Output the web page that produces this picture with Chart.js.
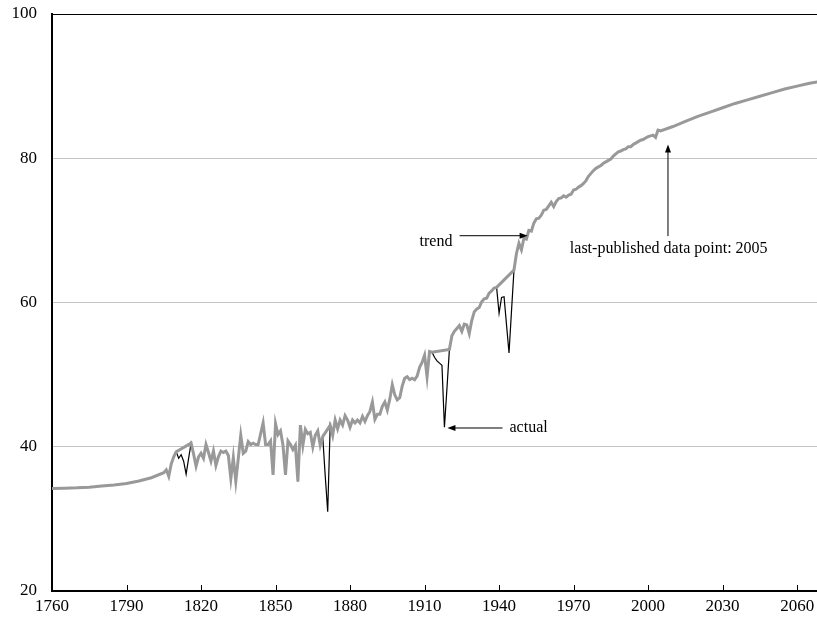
<!DOCTYPE html>
<html>
<head>
<meta charset="utf-8">
<script src="https://cdn.jsdelivr.net/npm/chart.js@4.4.1/dist/chart.umd.min.js"></script>
<style>
  html, body { margin: 0; padding: 0; background: #fff; }
  #wrap { width: 817px; height: 620px; }
</style>
</head>
<body>
<div id="wrap"><canvas id="chart" width="817" height="620"></canvas></div>
<script>
const FONT = "'Liberation Serif', 'Times New Roman', serif";

const X_TICKS = [1760, 1790, 1820, 1850, 1880, 1910, 1940, 1970, 2000, 2030, 2060];
const Y_TICKS = [20, 40, 60, 80, 100];

// smooth back-projection drawn before the annual series starts
const backYears = [1760, 1765, 1770, 1775, 1780, 1785, 1790, 1795, 1800, 1805];
const backTrend = [34.2, 34.25, 34.3, 34.4, 34.55, 34.7, 34.9, 35.25, 35.7, 36.4];

// annual trend, null where the trend bridges a war / crisis (straight line)
const FIRST_YEAR = 1806;
const trend1806 = [
  36.8, 35.9, 37.6, 38.6, 39.3, null, null, null, null, null,   // 1806-1815
  40.5, 39.0, 37.3, 38.6, 39.1, 38.4, 40.3, 39.2, 38.0, 39.4,   // 1816-1825
  37.4, 38.6, 39.4, 39.2, 39.4, 38.8, 35.6, 38.5, 35.2, 38.4,   // 1826-1835
  41.6, 39.1, 39.4, 40.7, 40.3, 40.5, 40.3, 40.3, 41.8, 43.3,   // 1836-1845
  40.3, 40.3, 40.8, 36.1, 43.2, 41.7, 42.2, 40.2, 36.1, 40.8,   // 1846-1855
  40.3, 39.6, 40.2, 35.2                                         // 1856-1859
];
const trend1860 = [
  43.0, 40.2, 42.4, 41.8, 42.0, 40.0, 41.6, 42.2, 40.2, 41.4,   // 1860-1869
  null, null, 43.0, 41.6, 43.7, 42.5, 43.7, 43.0, 44.3, 43.7,   // 1870-1879
  42.7, 43.7, 43.3, 43.7, 43.3, 44.2, 43.5, 44.3, 44.9, 46.2,   // 1880-1889
  43.8, 44.5, 44.5, 45.6, 46.2, 45.1, 46.6, 48.6, 47.2, 46.5,   // 1890-1899
  46.8, 48.4, 49.5, 49.7, 49.3, 49.5, 49.3, 49.8, 51.0, 51.7,   // 1900-1909
  52.7, 49.7, 53.2, 53.1, null, null, null, null, null, null    // 1910-1919
];
const trend1920 = [
  53.5, 55.4, 56.0, 56.4, 56.8, 56.0, 57.0, 56.9, 55.7, 57.5,   // 1920-1929
  58.7, 59.1, 59.3, 60.1, 60.5, 60.6, 61.3, 61.6, 62.0, 62.1,   // 1930-1939
  null, null, null, null, null, null, 64.5, 66.8, 68.2, 67.3,   // 1940-1949
  68.9, 68.8, 70.0, 69.9, 71.0, 71.6, 71.7, 72.1, 72.8, 72.9,   // 1950-1959
  73.4, 73.9, 73.3, 74.0, 74.4, 74.5, 74.8, 74.6, 74.9, 75.0    // 1960-1969
];
const trend1970 = [
  75.6, 75.7, 76.0, 76.2, 76.5, 76.9, 77.5, 77.9, 78.3, 78.6,   // 1970-1979
  78.8, 79.0, 79.3, 79.5, 79.7, 79.9, 80.3, 80.6, 80.9, 81.0,   // 1980-1989
  81.2, 81.3, 81.6, 81.6, 81.9, 82.1, 82.3, 82.5, 82.6, 82.8,   // 1990-1999
  83.0, 83.1, 83.2, 82.9, 83.9, 83.8                             // 2000-2005
];

// actual values where they fall away from the trend
const dipYears = [1811, 1812, 1813, 1814, 1815, 1870, 1871,
  1914, 1915, 1916, 1917, 1918, 1919, 1940, 1941, 1942, 1943, 1944, 1945];
const dipActual = [38.4, 38.9, 38.0, 36.2, 38.4, 36.0, 31.0,
  52.4, 51.9, 51.6, 51.3, 42.7, 48.0, 58.5, 60.7, 60.8, 56.9, 53.0, 58.8];

// projection after the last published point
const projYears = [2005, 2010, 2015, 2020, 2025, 2030, 2035, 2040, 2045, 2050, 2055, 2060, 2065, 2070];
const projTrend = [83.8, 84.4, 85.1, 85.8, 86.4, 87.0, 87.6, 88.1, 88.6, 89.1, 89.6, 90.0, 90.4, 90.7];

const annual = [...trend1806, ...trend1860, ...trend1920, ...trend1970];

const trendPoints = [];
backYears.forEach((x, i) => trendPoints.push({ x, y: backTrend[i] }));
annual.forEach((v, i) => { if (v !== null) trendPoints.push({ x: FIRST_YEAR + i, y: v }); });
projYears.forEach((x, i) => { if (x > FIRST_YEAR + annual.length - 1) trendPoints.push({ x, y: projTrend[i] }); });

const actualPoints = annual.map((v, i) => {
  const yr = FIRST_YEAR + i;
  const k = dipYears.indexOf(yr);
  return { x: yr, y: k >= 0 ? dipActual[k] : v };
});

// annotation texts and where they point (data coordinates)
const notes = [
  { text: "trend", tx: 1921.2, ty: 68.4, align: "right", from: [1924.1, 69.26], to: [1951.5, 69.26] },
  { text: "actual", tx: 1944.2, ty: 42.6, align: "left", from: [1941.4, 42.6], to: [1919.2, 42.6] },
  { text: "last-published data point: 2005", tx: 2008.3, ty: 67.5, align: "center", from: [2008.0, 69.2], to: [2008.0, 81.9] },
];

function arrow(ctx, x1, y1, x2, y2) {
  const a = Math.atan2(y2 - y1, x2 - x1);
  ctx.beginPath();
  ctx.moveTo(x1, y1);
  ctx.lineTo(x2 - 5 * Math.cos(a), y2 - 5 * Math.sin(a));
  ctx.stroke();
  ctx.beginPath();
  ctx.moveTo(x2, y2);
  ctx.lineTo(x2 - 8 * Math.cos(a) + 3 * Math.sin(a), y2 - 8 * Math.sin(a) - 3 * Math.cos(a));
  ctx.lineTo(x2 - 8 * Math.cos(a) - 3 * Math.sin(a), y2 - 8 * Math.sin(a) + 3 * Math.cos(a));
  ctx.closePath();
  ctx.fill();
}

const decorations = {
  id: "decorations",
  afterDraw(chart) {
    const { ctx, scales: { x, y } } = chart;
    ctx.save();
    // tick marks point up into the plot
    ctx.strokeStyle = "#000";
    ctx.lineWidth = 1;
    X_TICKS.slice(1).forEach((v) => {
      const px = Math.round(x.getPixelForValue(v)) + 0.5;
      ctx.beginPath();
      ctx.moveTo(px, y.bottom);
      ctx.lineTo(px, y.bottom - 6);
      ctx.stroke();
    });
    ctx.fillStyle = "#000";
    ctx.font = "16px " + FONT;
    ctx.textBaseline = "middle";
    for (const n of notes) {
      ctx.textAlign = n.align;
      ctx.fillText(n.text, x.getPixelForValue(n.tx), y.getPixelForValue(n.ty));
      arrow(ctx, x.getPixelForValue(n.from[0]), y.getPixelForValue(n.from[1]),
        x.getPixelForValue(n.to[0]), y.getPixelForValue(n.to[1]));
    }
    ctx.restore();
  },
};

new Chart(document.getElementById("chart").getContext("2d"), {
  type: "line",
  data: {
    datasets: [
      {
        label: "trend",
        data: trendPoints,
        borderColor: "#999999",
        borderWidth: 3,
        pointRadius: 0,
        order: 0,
      },
      {
        label: "actual",
        data: actualPoints,
        borderColor: "#000000",
        borderWidth: 1.2,
        pointRadius: 0,
        order: 1,
      },
    ],
  },
  options: {
    responsive: false,
    animation: false,
    layout: { padding: { top: 14, right: 0, left: 0, bottom: 0 } },
    plugins: { legend: { display: false }, tooltip: { enabled: false } },
    scales: {
      x: {
        type: "linear",
        min: 1760,
        max: 2068,
        afterBuildTicks: (s) => { s.ticks = X_TICKS.map((v) => ({ value: v })); },
        afterFit: (s) => { s.height = 29; s.paddingLeft = 0; s.paddingRight = 0; },
        grid: { drawOnChartArea: false, drawTicks: false },
        border: { color: "#000", width: 2 },
        ticks: {
          color: "#000", font: { family: FONT, size: 17 }, padding: 5, maxRotation: 0, autoSkip: false,
          callback: (v) => String(v),
        },
      },
      y: {
        type: "linear",
        min: 20,
        max: 100,
        afterBuildTicks: (s) => { s.ticks = Y_TICKS.map((v) => ({ value: v })); },
        afterFit: (s) => { s.width = 52; s.paddingTop = 0; s.paddingBottom = 0; },
        grid: {
          drawTicks: false,
          color: (c) => (c.tick && c.tick.value === 100 ? "#000" : "#c4c4c4"),
          lineWidth: 1,
        },
        border: { color: "#000", width: 2 },
        ticks: { color: "#000", font: { family: FONT, size: 17 }, padding: 15 },
      },
    },
  },
  plugins: [decorations],
});
</script>
</body>
</html>
